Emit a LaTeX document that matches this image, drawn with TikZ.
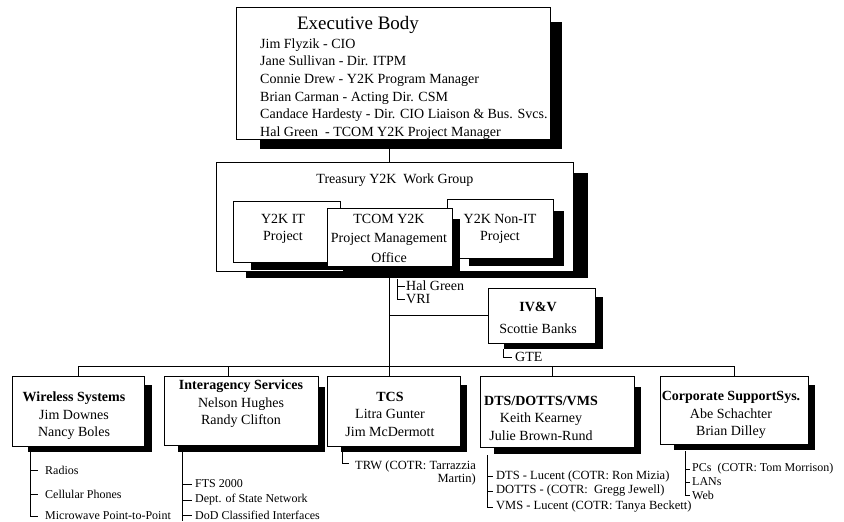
\documentclass[tikz,border=0pt]{standalone}
\usepackage{fontspec}
\setmainfont{Liberation Serif}
\newcommand\ShBox[7]{%
  \fill[shad] (#2+2*#6,#3+1.5*#7) rectangle (#4+#6,#5+#7);
  \node[box, minimum width={(#4-#2)*1pt}, minimum height={(#5-#3)*1pt}] (#1) at ({(#2+#4)/2},{(#3+#5)/2}) {};%
}
\begin{document}
\begin{tikzpicture}[x=1pt,y=-1pt,
  box/.style={draw, fill=white, line width=0.8pt, inner sep=0pt, outer sep=0pt},
  shad/.style={fill=black},
  ln/.style={line width=0.8pt},
  txt/.style={font=\fontsize{14}{17.5}\selectfont, align=center, inner sep=0pt},
  lt/.style={font=\fontsize{12}{14}\selectfont, inner sep=0pt, anchor=west},
  ltb/.style={font=\fontsize{12.5}{15}\selectfont, inner sep=0pt, anchor=west}]
\useasboundingbox (0,0) rectangle (844,522);
\fill[white] (0,0) rectangle (844,522);

% Executive body
\ShBox{exec}{236}{7}{550}{139}{12}{10}
\node[txt, font=\fontsize{19}{22}\selectfont] (exect) at (358,25) {Executive Body};
\node[txt, align=left, anchor=west, font=\fontsize{14}{17.6}\selectfont] (execl) at (260,89)
  {Jim Flyzik - CIO\\Jane Sullivan - Dir. ITPM\\Connie Drew - Y2K Program Manager\\Brian Carman - Acting Dir. CSM\\Candace Hardesty - Dir. CIO Liaison \& Bus. Svcs.\\Hal Green~ - TCOM Y2K Project Manager};

% Work group
\ShBox{wg}{216}{162}{573}{271}{15}{7}
\node[txt] (wgt) at (395,180) {Treasury Y2K\ \ Work Group};
\ShBox{it}{233}{201}{340}{262}{9}{8}
\node[txt] (itt) at (283,229) {Y2K IT\\Project};
\ShBox{nit}{447}{199}{553}{258}{11}{8}
\node[txt] (nitt) at (500,229) {Y2K Non-IT\\Project};
\ShBox{tcom}{327}{208}{452}{266}{8}{7}
\node[txt, font=\fontsize{14}{19.5}\selectfont] (tcomt) at (389,238) {TCOM Y2K\\Project Management\\Office};

\draw[ln] (exec.south -| tcom.south) -- (wg.north -| tcom.south);

% main vertical and bus
\coordinate (bus) at (0,366);
\draw[ln] (tcom.south) -- (tcom.south |- bus);

% Hal Green / VRI
\node[txt, anchor=west] (hal) at (406,286) {Hal Green};
\node[txt, anchor=west] (vri) at (406,299) {VRI};
\coordinate (hb) at (397,279);
\draw[ln] (hb) |- ([xshift=-1pt]vri.west);
\draw[ln] (hb |- hal.west) -- ([xshift=-1pt]hal.west);

% IV&V
\ShBox{ivv}{488}{288}{595}{343}{8}{6}
\node[txt] (ivvt) at (538,318) {\textbf{IV\&V}\\[5pt]Scottie Banks};
\draw[ln] (ivv.west -| tcom.south) -- (ivv.west);
\coordinate (gb) at (503,349);
\node[txt, anchor=west] (gte) at (515,357) {GTE};
\draw[ln] (gb) |- ([xshift=-3pt]gte.west);

% bottom boxes
\ShBox{wire}{12}{376}{144}{446}{8}{6}
\ShBox{inter}{164}{376}{318}{445}{7}{7}
\ShBox{tcs}{327}{376}{460}{446}{7}{6}
\ShBox{dts}{480}{376}{634}{447}{7}{7}
\ShBox{corp}{660}{376}{808}{444}{7}{6}

\draw[ln] (wire.north |- bus) -- (corp.north |- bus);
\draw[ln] (wire.north |- bus) -- (wire.north);
\coordinate (d2) at (228,366);
\draw[ln] (d2) -- (d2 |- inter.north);
\draw[ln] (tcom.south |- bus) -- (tcom.south |- tcs.north);
\coordinate (d4) at (552,366);
\draw[ln] (d4) -- (d4 |- dts.north);
\draw[ln] (corp.north |- bus) -- (corp.north);

\node[txt] (wiret) at (74,416) {\textbf{Wireless Systems}\\Jim Downes\\Nancy Boles};
\node[txt] (intert) at (241,404) {\textbf{Interagency Services}\\Nelson Hughes\\Randy Clifton};
\node[txt] (tcst) at (390,414) {\textbf{TCS}\\Litra Gunter\\Jim McDermott};
\node[txt] (dtst) at (541,418) {\textbf{DTS/DOTTS/VMS}\\Keith Kearney\\Julie Brown-Rund};
\node[txt] (corpt) at (731,415) {\textbf{Corporate SupportSys.}\\Abe Schachter\\Brian Dilley};

% Wireless list
\node[lt] (w1) at (45,470) {Radios};
\node[lt] (w2) at (45,494) {Cellular Phones};
\node[lt] (w3) at (45,516) {Microwave Point-to-Point};
\coordinate (wl) at (30,452);
\draw[ln] (wl) |- ([xshift=-7pt]w3.west);
\draw[ln] (wl |- w1.west) -- ([xshift=-7pt]w1.west);
\draw[ln] (wl |- w2.west) -- ([xshift=-7pt]w2.west);

% Interagency list
\node[lt] (i1) at (195,484) {FTS 2000};
\node[lt] (i2) at (195,500) {Dept. of State Network};
\node[lt] (i3) at (195,515) {DoD Classified Interfaces};
\coordinate (il) at (182,452);
\coordinate (ie) at (182,521);
\draw[ln] (il) -- (ie);
\draw[ln] (il |- i1.west) -- ([xshift=-3pt]i1.west);
\draw[ln] (il |- i2.west) -- ([xshift=-3pt]i2.west);
\draw[ln] (il |- i3.west) -- ([xshift=-3pt]i3.west);

% TCS list
\coordinate (tb) at (342,452);
\coordinate (te) at (349,463);
\draw[ln] (tb) |- (te);
\node[lt, anchor=north west, align=right, font=\fontsize{12.5}{12.5}\selectfont] (trw) at (355,461) {TRW (COTR: Tarrazzia\\Martin)};

% DTS list
\node[ltb] (s1) at (496,476) {DTS - Lucent (COTR: Ron Mizia)};
\node[ltb] (s2) at (496,491) {DOTTS - (COTR:\ \ Gregg Jewell)};
\node[ltb] (s3) at (496,507) {VMS - Lucent (COTR: Tanya Beckett)};
\coordinate (sl) at (487,455);
\draw[ln] (sl) |- ([xshift=-3pt]s3.west);
\draw[ln] (sl |- s1.west) -- ([xshift=-3pt]s1.west);
\draw[ln] (sl |- s2.west) -- ([xshift=-3pt]s2.west);

% Corporate list
\node[lt] (c1) at (692,469) {PCs\ \ (COTR: Tom Morrison)};
\node[lt] (c2) at (692,482) {LANs};
\node[lt] (c3) at (692,495) {Web};
\coordinate (cl) at (685,451);
\draw[ln] (cl) |- ([xshift=-2pt]c3.west);
\draw[ln] (cl |- c1.west) -- ([xshift=-2pt]c1.west);
\draw[ln] (cl |- c2.west) -- ([xshift=-2pt]c2.west);
\end{tikzpicture}
\end{document}
